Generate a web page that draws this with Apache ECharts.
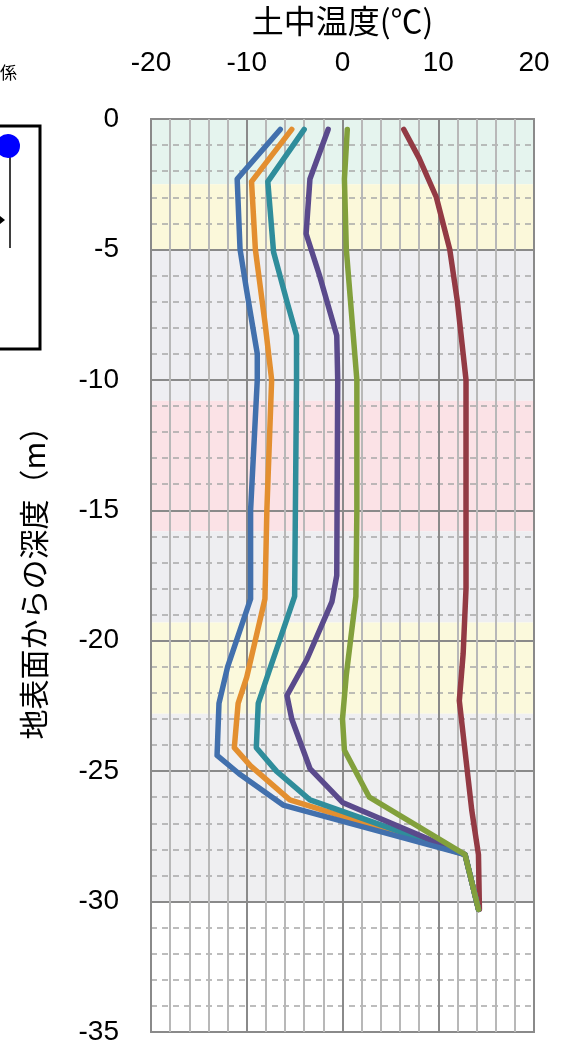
<!DOCTYPE html>
<html>
<head>
<meta charset="utf-8">
<script src="https://cdn.jsdelivr.net/npm/echarts@6/dist/echarts.min.js"></script>
<style>
html,body{margin:0;padding:0;background:#fff;}
#chart{width:565px;height:1046px;}
</style>
</head>
<body>
<div id="chart"></div>
<script>
// ---- data: [temperature (°C), depth (m)] ----
var seriesNames = ['系列1', '系列2', '系列3', '系列4', '系列5', '系列6'];
var blueData = [[-6.5,-0.4],[-11.0,-2.3],[-10.7,-5.0],[-10.0,-6.6],[-8.9,-9.0],[-8.9,-10.0],[-9.6,-15.0],[-9.6,-18.4],[-12.0,-21.0],[-12.9,-22.4],[-13.1,-24.4],[-10.8,-25.1],[-6.2,-26.3],[12.8,-28.2],[14.2,-30.3]];
var orangeData = [[-5.3,-0.4],[-9.5,-2.4],[-9.1,-5.0],[-8.1,-7.8],[-7.4,-10.0],[-7.9,-15.0],[-8.1,-18.4],[-10.0,-21.4],[-10.9,-22.4],[-11.3,-24.1],[-9.6,-24.8],[-5.5,-26.1],[12.8,-28.2],[14.2,-30.3]];
var tealData = [[-4.0,-0.4],[-7.8,-2.4],[-7.2,-5.1],[-5.8,-7.0],[-4.8,-8.3],[-4.8,-10.0],[-5.0,-18.3],[-7.7,-21.2],[-8.8,-22.4],[-9.0,-24.1],[-6.9,-25.0],[-3.4,-26.1],[12.8,-28.2],[14.2,-30.3]];
var purpleData = [[-1.5,-0.4],[-3.4,-2.3],[-3.8,-4.4],[-2.4,-6.0],[-0.6,-8.3],[-0.5,-10.0],[-0.6,-17.5],[-1.1,-18.5],[-3.7,-20.7],[-5.8,-22.1],[-5.3,-23.0],[-3.4,-24.9],[0.0,-26.2],[3.8,-26.8],[12.8,-28.2],[14.2,-30.3]];
var greenData = [[0.5,-0.4],[0.2,-2.3],[0.4,-5.0],[1.5,-10.0],[1.5,-15.0],[1.4,-18.3],[0.4,-21.3],[0.0,-23.0],[0.2,-24.2],[2.8,-26.0],[12.8,-28.2],[14.2,-30.3]];
var redData = [[6.4,-0.4],[8.0,-1.5],[9.8,-3.0],[11.2,-5.0],[12.0,-7.0],[12.6,-9.0],[12.9,-10.0],[12.9,-18.0],[12.6,-20.5],[12.2,-22.3],[13.5,-26.5],[14.2,-28.2],[14.3,-30.3]];
// background soil layers: [top depth, bottom depth]
var layerDepths = [[0,-2.5],[-2.5,-5],[-5,-10.8],[-10.8,-15.8],[-15.8,-19.3],[-19.3,-22.8],[-22.8,-30]];
var layerColors = ['#e5f4ee','#fbf8da','#eeeef2','#fbe2e6','#eeeef1','#fbf9dc','#efeff1'];
var xTicks = [-20, -10, 0, 10, 20];
var yTicks = [0, -5, -10, -15, -20, -25, -30, -35];

var FONT = "'Liberation Sans', Arial, 'Noto Sans CJK JP', sans-serif";
var chart = echarts.init(document.getElementById('chart'), null, {renderer: 'canvas'});

var bandData = layerDepths.map(function (d, i) {
  return [
    {xAxis: xTicks[0], yAxis: d[0], itemStyle: {color: layerColors[i]}},
    {xAxis: xTicks[xTicks.length - 1], yAxis: d[1]}
  ];
});

function lineSeries(name, data, color) {
  return {
    name: name, type: 'line', data: data, symbol: 'none', smooth: false,
    lineStyle: {color: color, width: 5.5, join: 'round', cap: 'round'},
    itemStyle: {color: color}, animation: false, z: 3
  };
}

chart.setOption({
  backgroundColor: '#ffffff',
  animation: false,
  textStyle: {fontFamily: FONT},
  grid: {left: 151, right: 31, top: 104, bottom: 5, show: true, borderColor: '#8c8c8c', borderWidth: 2, containLabel: false},
  xAxis: {
    type: 'value', position: 'top', min: xTicks[0], max: xTicks[xTicks.length - 1], interval: 10,
    name: '土中温度(℃)', nameLocation: 'middle', nameGap: 82,
    nameTextStyle: {fontSize: 32, color: '#000', fontFamily: "'Noto Sans CJK JP', sans-serif"},
    axisLine: {show: false}, axisTick: {show: false},
    axisLabel: {fontSize: 28, color: '#000', margin: 42, fontFamily: FONT},
    splitLine: {show: true, lineStyle: {color: '#8a8a8a', width: 2}},
    minorTick: {show: false, splitNumber: 5},
    minorSplitLine: {show: true, lineStyle: {color: '#b8b8b8', width: 2}}
  },
  yAxis: {
    type: 'value', min: yTicks[yTicks.length - 1], max: yTicks[0], interval: 5,
    name: '地表面からの深度（m）', nameLocation: 'middle', nameGap: 102, nameRotate: 90,
    nameTextStyle: {fontSize: 30, color: '#000', fontFamily: "'Noto Sans CJK JP', sans-serif"},
    axisLine: {show: false}, axisTick: {show: false},
    axisLabel: {fontSize: 28, color: '#000', margin: 32, fontFamily: FONT},
    splitLine: {show: true, lineStyle: {color: '#8a8a8a', width: 2}},
    minorTick: {show: false, splitNumber: 5},
    minorSplitLine: {show: true, lineStyle: {color: '#a8a8a8', width: 1.5, type: [6, 5]}}
  },
  graphic: [
    {type: 'text', left: 0, top: 64, style: {text: '係', fontSize: 17, fill: '#000', fontFamily: "'Noto Sans CJK JP', sans-serif"}},
    {type: 'rect', shape: {x: -20, y: 126, width: 60, height: 223}, style: {fill: 'none', stroke: '#000', lineWidth: 3}},
    {type: 'polyline', shape: {points: [[-5, 144], [10, 144], [10, 248]]}, style: {fill: 'none', stroke: '#000', lineWidth: 1.5}},
    {type: 'polygon', shape: {points: [[0, 216], [5, 220], [0, 224]]}, style: {fill: '#000'}},
    {type: 'circle', shape: {cx: 8, cy: 146, r: 12}, style: {fill: '#0000ff'}}
  ],
  series: [
    {
      name: 'layers', type: 'line', data: [], silent: true, z: 1,
      markArea: {silent: true, z: -1, data: bandData, label: {show: false}}
    },
    lineSeries(seriesNames[5], redData, '#933a44'),
    lineSeries(seriesNames[0], orangeData, '#e38f30'),
    lineSeries(seriesNames[1], tealData, '#2f8d9b'),
    lineSeries(seriesNames[2], purpleData, '#5a4a8c'),
    lineSeries(seriesNames[3], blueData, '#4270ad'),
    lineSeries(seriesNames[4], greenData, '#82a03c')
  ]
});
</script>
</body>
</html>
